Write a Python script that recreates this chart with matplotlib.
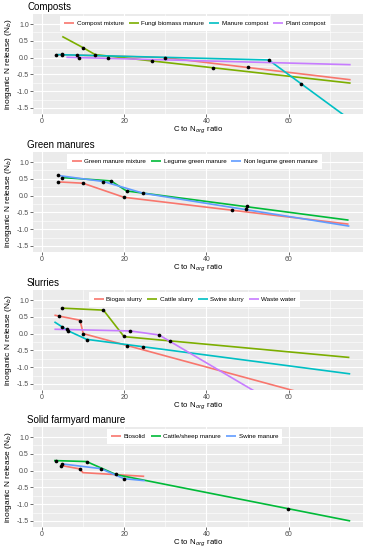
import matplotlib
matplotlib.use('Agg')
import matplotlib.pyplot as plt

plt.rcParams['font.family'] = ['Liberation Sans', 'DejaVu Sans']
plt.rcParams['axes.unicode_minus'] = False

C4 = ['#F8766D', '#7CAE00', '#00BFC4', '#C77CFF']
C3 = ['#F8766D', '#00BA38', '#619CFF']

# --- Composts ---
comp_names = ['Compost mixture', 'Fungi biomass manure', 'Manure compost', 'Plant compost']
comp_x = [[4, 30, 75], [5, 10, 13, 75], [3.6, 55.1, 63, 75], [6, 75]]
comp_y = [[0.09, 0.0, -0.66], [0.63, 0.30, 0.09, -0.76], [0.09, -0.07, -0.78, -1.86], [0.01, -0.21]]
comp_px = [3.6, 5.0, 5.0, 10.0, 8.7, 9.1, 13.0, 16.0, 26.7, 30.0, 41.5, 50.2, 55.1, 63.0]
comp_py = [0.09, 0.09, 0.10, 0.30, 0.09, 0.0, 0.09, 0.0, -0.09, 0.0, -0.32, -0.29, -0.07, -0.78]

# --- Green manures ---
green_names = ['Green manure mixture', 'Legume green manure', 'Non legume green manure']
green_x = [[4, 10, 20, 74.5], [4.9, 16.8, 20.6, 74.5], [4, 15, 24.7, 74.7]]
green_y = [[0.41, 0.37, -0.05, -0.85], [0.54, 0.44, 0.14, -0.73], [0.60, 0.42, 0.07, -0.91]]
green_px = [4.0, 4.9, 4.0, 10.0, 15.0, 16.8, 20.6, 20.0, 24.5, 46.2, 49.6, 49.9]
green_py = [0.60, 0.54, 0.42, 0.37, 0.42, 0.44, 0.15, -0.04, 0.07, -0.43, -0.41, -0.32]

# --- Slurries ---
slur_names = ['Biogas slurry', 'Cattle slurry', 'Swine slurry', 'Waste water']
slur_x = [[3.1, 9.3, 10.1, 75], [4.9, 15, 20, 74.7], [3.1, 6.5, 10.9, 74.9], [3.1, 21.5, 28.5, 75]]
slur_y = [[0.55, 0.40, 0.0, -2.16], [0.76, 0.70, -0.09, -0.71], [0.35, 0.08, -0.17, -1.20], [0.13, 0.08, -0.04, -3.4]]
slur_px = [4.9, 15.0, 4.3, 9.3, 10.1, 4.9, 6.1, 6.5, 10.9, 20.0, 21.5, 20.8, 24.5, 28.5, 31.2]
slur_py = [0.75, 0.70, 0.53, 0.39, 0.0, 0.20, 0.13, 0.07, -0.19, -0.08, 0.07, -0.36, -0.40, -0.04, -0.23]

# --- Solid farmyard manure ---
solid_names = ['Biosolid', 'Cattle/sheep manure', 'Swine manure']
solid_x = [[4.9, 9.3, 10, 24.9], [3, 10.9, 18.1, 74.9], [5, 14.3, 20, 25]]
solid_y = [[0.15, 0.05, -0.06, -0.17], [0.30, 0.27, -0.12, -1.50], [0.20, 0.06, -0.24, -0.30]]
solid_px = [3.6, 10.9, 4.6, 5.0, 9.3, 14.3, 18.1, 20.0, 59.9]
solid_py = [0.29, 0.26, 0.15, 0.20, 0.06, 0.05, -0.11, -0.25, -1.13]

panels = [
    ('Composts', comp_names, comp_x, comp_y, comp_px, comp_py, C4),
    ('Green manures', green_names, green_x, green_y, green_px, green_py, C3),
    ('Slurries', slur_names, slur_x, slur_y, slur_px, slur_py, C4),
    ('Solid farmyard manure', solid_names, solid_x, solid_y, solid_px, solid_py, C3),
]

W, H = 370, 550
fig = plt.figure(figsize=(W / 100, H / 100), dpi=100)
tops = [14, 152, 290, 427]
left, right, ph = 33, 363, 100

for top, (title, names, xs, ys, px, py, cols) in zip(tops, panels):
    ax = fig.add_axes([left / W, 1 - (top + ph) / H, (right - left) / W, ph / H])
    ax.set_facecolor('#EBEBEB')
    for s in ax.spines.values():
        s.set_visible(False)
    ax.set_xlim(-2.1, 78)
    ax.set_ylim(-1.68, 1.30)
    ax.set_xticks([0, 20, 40, 60])
    ax.set_yticks([-1.5, -1.0, -0.5, 0.0, 0.5, 1.0])
    ax.set_yticklabels(['-1.5', '-1.0', '-0.5', '0.0', '0.5', '1.0'])
    ax.set_xticks([10, 30, 50, 70], minor=True)
    ax.set_yticks([-1.25, -0.75, -0.25, 0.25, 0.75], minor=True)
    ax.grid(which='major', color='white', lw=0.8)
    ax.grid(which='minor', color='white', lw=0.4)
    ax.set_axisbelow(True)
    ax.tick_params(which='major', length=2, width=0.5, color='#333333',
                   labelsize=5, labelcolor='#4D4D4D', pad=1)
    ax.tick_params(which='minor', length=0)
    for n, x, y, c in zip(names, xs, ys, cols):
        ax.plot(x, y, color=c, lw=1.2, label=n, solid_capstyle='butt')
    ax.scatter(px, py, s=7, color='black', zorder=5, lw=0)
    ax.set_xlabel('C to N$_{org}$ ratio', fontsize=5.6, labelpad=0)
    ax.set_ylabel('inorganic N release (N$_b$)', fontsize=6, labelpad=2)
    ax.text(-0.018, 1.07, title, transform=ax.transAxes, fontsize=7,
            ha='left', va='center')
    leg = ax.legend(loc='center', bbox_to_anchor=(0.49, 0.905), ncol=len(names),
                    fontsize=4.5, frameon=True, fancybox=False, handlelength=1.6,
                    handletextpad=0.4, columnspacing=0.8, borderpad=0.7,
                    framealpha=1)
    leg.get_frame().set_edgecolor('white')
    leg.get_frame().set_linewidth(0)

fig.savefig('out.png', dpi=100)
